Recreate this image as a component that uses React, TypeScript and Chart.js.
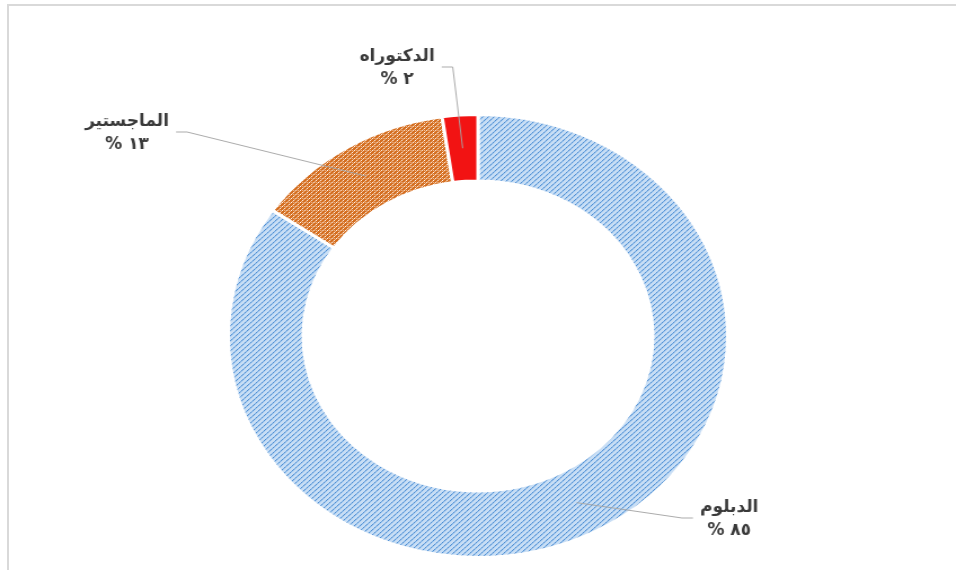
import React, { useEffect, useRef } from "react";
import { Chart, registerables } from "chart.js";

Chart.register(...registerables);

// ---- data ----
const categories = ["الدبلوم", "الماجستير", "الدكتوراه"];
const percentValues = [84.6, 13.1, 2.3];
const percentLabels = ["٨٥ %", "١٣ %", "٢ %"];

// ---- layout ----
const W = 956;
const H = 570;
const SX = 1.127; // horizontal stretch of the picture (ellipse)
const IW = Math.round(W / SX);

// label block centres (screen px) and which side the leader leaves from
const labelLayout = [
  { cx: 729, cy: 519, side: "left" },
  { cx: 127, cy: 133, side: "right" },
  { cx: 397, cy: 68, side: "right" },
];

function makeBluePattern(ctx: CanvasRenderingContext2D) {
  const n = 5;
  const c = document.createElement("canvas");
  c.width = n;
  c.height = n;
  const g = c.getContext("2d")!;
  g.fillStyle = "#c8def5";
  g.fillRect(0, 0, n, n);
  for (let x = 0; x < n; x++) {
    for (let y = 0; y < n; y++) {
      const k = (x + y) % n;
      if (k === n - 1) {
        g.fillStyle = x % 2 === 0 ? "#4f8fd4" : "#72a9e1";
        g.fillRect(x, y, 1, 1);
      } else if (k === 0) {
        g.fillStyle = "#a9cbee";
        g.fillRect(x, y, 1, 1);
      }
    }
  }
  return ctx.createPattern(c, "repeat")!;
}

function makeOrangePattern(ctx: CanvasRenderingContext2D) {
  const c = document.createElement("canvas");
  c.width = 4;
  c.height = 4;
  const g = c.getContext("2d")!;
  g.fillStyle = "#d46e20";
  g.fillRect(0, 0, 4, 4);
  g.fillStyle = "#fff6ef";
  g.fillRect(0, 0, 1, 1);
  g.fillRect(2, 2, 1, 1);
  g.fillStyle = "#f0bb92";
  g.fillRect(1, 3, 1, 1);
  g.fillRect(3, 1, 1, 1);
  g.fillRect(0, 2, 1, 1);
  return ctx.createPattern(c, "repeat")!;
}

const labelPlugin = {
  id: "arabicLabels",
  afterDatasetsDraw(chart: any) {
    const ctx: CanvasRenderingContext2D = chart.ctx;
    const meta = chart.getDatasetMeta(0);
    ctx.save();
    ctx.scale(1 / SX, 1);
    ctx.font = "bold 17px 'DejaVu Sans'";
    ctx.direction = "rtl";
    ctx.textAlign = "center";
    ctx.textBaseline = "middle";
    meta.data.forEach((arc: any, i: number) => {
      const p = arc.getProps(
        ["x", "y", "startAngle", "endAngle", "innerRadius", "outerRadius"],
        true
      );
      const mid = (p.startAngle + p.endAngle) / 2;
      const r = (p.innerRadius + p.outerRadius) / 2;
      const ax = (p.x + Math.cos(mid) * r) * SX;
      const ay = p.y + Math.sin(mid) * r;
      const lay = labelLayout[i];
      const w = Math.max(
        ctx.measureText(categories[i]).width,
        ctx.measureText(percentLabels[i]).width
      );
      const dir = lay.side === "right" ? 1 : -1;
      const sx0 = lay.cx + dir * (w / 2 + 7);
      const sy0 = lay.cy - 1;
      const sx1 = sx0 + dir * 11;
      ctx.strokeStyle = "#a6a6a6";
      ctx.lineWidth = 1;
      ctx.beginPath();
      ctx.moveTo(sx0, sy0);
      ctx.lineTo(sx1, sy0);
      ctx.lineTo(ax, ay);
      ctx.stroke();
      ctx.fillStyle = "#3a3a3a";
      ctx.fillText(categories[i], lay.cx, lay.cy - 11);
      ctx.fillText(percentLabels[i], lay.cx, lay.cy + 12);
    });
    ctx.restore();
  },
};

export default function App() {
  const ref = useRef<HTMLCanvasElement>(null);
  useEffect(() => {
    const canvas = ref.current!;
    const ctx = canvas.getContext("2d")!;
    const chart = new Chart(canvas, {
      type: "doughnut",
      data: {
        labels: categories,
        datasets: [
          {
            data: percentValues,
            backgroundColor: [makeBluePattern(ctx), makeOrangePattern(ctx), "#f21313"],
            borderColor: "#ffffff",
            borderWidth: 3,
            hoverOffset: 0,
          },
        ],
      },
      options: {
        responsive: false,
        animation: false,
        cutout: "70%",
        rotation: 0,
        layout: {
          padding: { top: 113, bottom: 11, left: 201, right: IW - 201 - 446 },
        },
        plugins: {
          legend: { display: false },
          tooltip: { enabled: false },
          title: { display: false },
        },
      },
      plugins: [labelPlugin],
    });
    return () => chart.destroy();
  }, []);

  return (
    <div
      style={{
        position: "fixed",
        left: 0,
        top: 0,
        width: W,
        height: H,
        overflow: "hidden",
        background: "#ffffff",
      }}
    >
      <div
        style={{
          position: "absolute",
          left: 7,
          top: 4,
          width: 2000,
          height: 2000,
          borderTop: "2px solid #d9d9d9",
          borderLeft: "2px solid #d9d9d9",
        }}
      />
      <canvas
        ref={ref}
        width={IW}
        height={H}
        style={{ position: "absolute", left: 0, top: 0, width: W + "px", height: H + "px" }}
      />
    </div>
  );
}
